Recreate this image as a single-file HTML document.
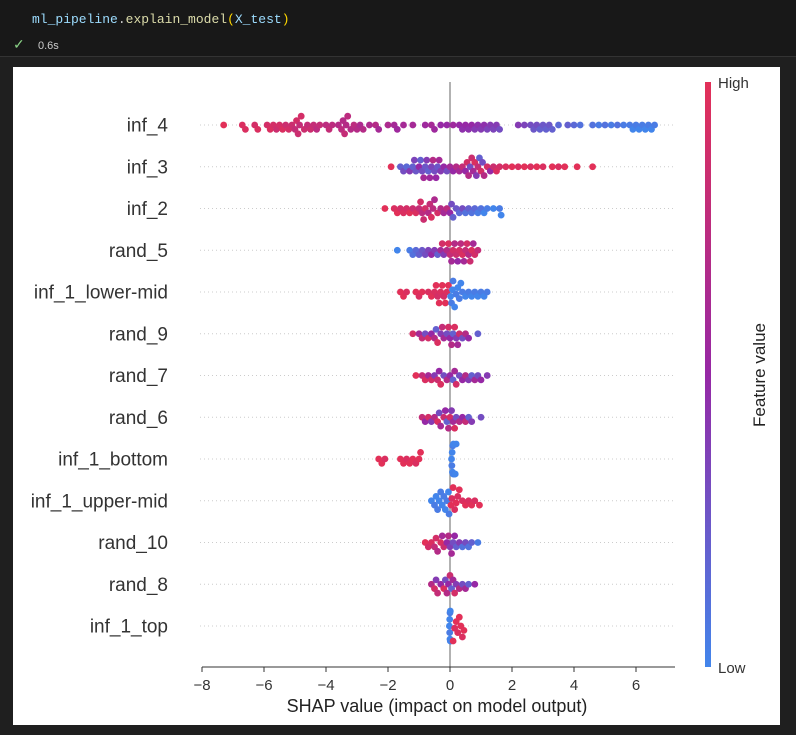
<!DOCTYPE html>
<html><head><meta charset="utf-8"><style>
body{margin:0;background:#1f1f1f;width:796px;height:735px;overflow:hidden;font-family:"Liberation Sans",sans-serif}
#top{position:absolute;left:0;top:0;width:796px;height:56px;background:#181818;border-bottom:1px solid #333}
#code{position:absolute;left:32px;top:12px;font:13px "Liberation Mono",monospace;color:#9cdcfe}
#time{position:absolute;left:38px;top:40px;font-size:11px;color:#ccc}
#chk{position:absolute;left:13px;top:36px;font-size:14px;color:#89d185}
#panel{position:absolute;left:13px;top:67px;width:767px;height:658px;background:#fff}
svg{position:absolute;left:0;top:0}
</style></head><body>
<div id="top">
<div id="code">ml_pipeline<span style="color:#ccc">.</span><span style="color:#dcdcaa">explain_model</span><span style="color:#ffd700">(</span>X_test<span style="color:#ffd700">)</span></div>
<span id="chk">✓</span><span id="time">0.6s</span>
</div>
<div id="panel"></div>
<svg id="chart" width="796" height="735"></svg>
<script>
const features=["inf_4","inf_3","inf_2","rand_5","inf_1_lower-mid","rand_9","rand_7","rand_6","inf_1_bottom","inf_1_upper-mid","rand_10","rand_8","inf_1_top"];
const xTicks=[-8,-6,-4,-2,0,2,4,6];
const inf_4=[[-7.3,1],[-6.7,.95],[-6.6,.95],[-6.3,.9],[-6.2,.95],[-5.9,.9],[-5.8,.95],[-5.7,.9],[-5.6,.85],[-5.5,.9],[-5.4,.95],[-5.3,.85],[-5.2,.9],[-5.1,.85],[-5.0,.8],[-4.95,.9],[-4.9,.85],[-4.85,.8],[-4.8,.9],[-4.7,.85],[-4.6,.8],[-4.5,.85],[-4.4,.8],[-4.3,.75],[-4.2,.8],[-4.0,.75],[-3.9,.8],[-3.8,.75],[-3.6,.7],[-3.5,.75],[-3.45,.7],[-3.4,.8],[-3.35,.7],[-3.3,.75],[-3.2,.7],[-3.1,.75],[-3.0,.7],[-2.9,.65],[-2.8,.7],[-2.6,.65],[-2.4,.7],[-2.3,.6],[-2.0,.65],[-1.8,.6],[-1.7,.55],[-1.5,.6],[-1.2,.6],[-0.8,.55],[-0.6,.6],[-0.5,.55],[-0.3,.5],[-0.1,.5],[0.1,.55],[0.3,.5],[0.4,.45],[0.5,.5],[0.6,.45],[0.7,.5],[0.8,.4],[0.9,.45],[1.0,.4],[1.1,.45],[1.2,.35],[1.3,.4],[1.4,.35],[1.5,.4],[1.6,.3],[2.2,.4],[2.4,.35],[2.6,.3],[2.7,.25],[2.8,.3],[2.9,.2],[3.0,.25],[3.1,.2],[3.2,.25],[3.3,.2],[3.5,.15],[3.8,.2],[4.0,.15],[4.2,.1],[4.6,.1],[4.8,.05],[5.0,.1],[5.2,.05],[5.4,.1],[5.6,.05],[5.8,.05],[5.9,0],[6.0,.05],[6.1,0],[6.2,.05],[6.3,0],[6.4,.05],[6.5,0],[6.6,.05]];
const inf_3=[[-1.9,1],[-1.6,.2],[-1.5,.3],[-1.4,.15],[-1.3,.4],[-1.2,.2],[-1.15,.35],[-1.1,.25],[-1.0,.5],[-0.95,.2],[-0.9,.3],[-0.85,.6],[-0.8,.25],[-0.75,.4],[-0.7,.2],[-0.65,.55],[-0.6,.35],[-0.55,.7],[-0.5,.3],[-0.45,.5],[-0.4,.25],[-0.35,.6],[-0.3,.4],[-0.2,.5],[-0.1,.3],[0,.6],[0.1,.5],[0.2,.7],[0.3,.6],[0.4,.8],[0.5,.5],[0.55,.9],[0.6,.7],[0.65,.3],[0.7,.85],[0.75,.6],[0.8,.95],[0.85,.4],[0.9,.8],[0.95,.2],[1.0,.9],[1.05,.3],[1.1,.7],[1.2,.9],[1.3,.5],[1.4,.85],[1.5,.95],[1.6,.9],[1.8,.95],[2.0,1],[2.2,.95],[2.4,1],[2.6,.95],[2.8,1],[3.0,.95],[3.3,1],[3.5,.95],[3.7,1],[4.1,1],[4.6,1]];
const inf_2=[[-2.1,1],[-1.8,.95],[-1.7,1],[-1.6,.9],[-1.5,.95],[-1.4,.9],[-1.3,1],[-1.2,.85],[-1.1,.95],[-1.0,.8],[-0.95,.9],[-0.9,.75],[-0.85,.85],[-0.8,.9],[-0.7,.7],[-0.65,.8],[-0.6,.95],[-0.55,.75],[-0.5,.65],[-0.4,.9],[-0.3,.7],[-0.2,.6],[-0.1,.75],[0,.5],[0.05,.3],[0.1,.2],[0.2,.25],[0.3,.15],[0.4,.3],[0.5,.1],[0.6,.2],[0.7,.1],[0.8,.15],[0.9,.05],[1.0,.1],[1.1,0],[1.2,.05],[1.4,0],[1.6,.05],[1.65,0]];
const rand_5=[[-1.7,0],[-1.3,.05],[-1.2,.1],[-1.1,.15],[-1.0,.2],[-0.9,.25],[-0.8,.3],[-0.7,.35],[-0.6,.5],[-0.5,.4],[-0.4,.2],[-0.3,.6],[-0.25,.9],[-0.2,.4],[-0.1,.7],[-0.05,.95],[0,.8],[0.05,.6],[0.1,.9],[0.15,.7],[0.2,.85],[0.25,.5],[0.3,.9],[0.35,.75],[0.4,.95],[0.45,.6],[0.5,.8],[0.55,.9],[0.6,.7],[0.65,.85],[0.7,.95],[0.75,.6],[0.8,.9],[0.9,.8]];
const inf_1_lower_mid=[[-1.6,1],[-1.5,1],[-1.4,.95],[-1.1,1],[-1.0,.95],[-0.9,1],[-0.7,.95],[-0.6,1],[-0.5,.95],[-0.45,1],[-0.4,.9],[-0.35,1],[-0.3,.95],[-0.25,1],[-0.2,.9],[-0.15,1],[-0.1,.95],[-0.05,1],[0.02,0],[0.05,.05],[0.08,0],[0.1,.05],[0.15,0],[0.2,.05],[0.25,0],[0.3,.05],[0.35,0],[0.4,.05],[0.5,0],[0.6,.05],[0.7,0],[0.8,.05],[0.9,0],[1.0,.05],[1.1,0],[1.2,.05]];
const rand_9=[[-1.2,.9],[-1.0,.6],[-0.9,.8],[-0.8,.3],[-0.7,.9],[-0.6,.5],[-0.5,.7],[-0.45,.2],[-0.4,.95],[-0.3,.4],[-0.25,.8],[-0.2,.6],[-0.1,.3],[-0.05,.9],[0,.5],[0.05,.7],[0.1,.2],[0.15,.95],[0.2,.4],[0.25,.6],[0.3,.85],[0.4,.3],[0.5,.7],[0.6,.5],[0.9,.2]];
const rand_7=[[-1.1,1],[-0.9,.8],[-0.8,.95],[-0.7,.6],[-0.6,.9],[-0.5,.4],[-0.4,.85],[-0.35,.5],[-0.3,.95],[-0.2,.3],[-0.1,.7],[0,.5],[0.1,.2],[0.15,.6],[0.2,.9],[0.3,.3],[0.4,.5],[0.5,.7],[0.6,.4],[0.7,.2],[0.8,.6],[0.9,.3],[1.0,.5],[1.2,.4]];
const rand_6=[[-0.9,.8],[-0.8,.5],[-0.7,.9],[-0.6,.4],[-0.5,.7],[-0.4,.95],[-0.35,.3],[-0.3,.6],[-0.2,.85],[-0.15,.5],[-0.1,.2],[-0.05,.7],[0,.9],[0.05,.4],[0.1,.6],[0.15,.95],[0.2,.3],[0.3,.7],[0.4,.5],[0.5,.8],[0.6,.2],[0.7,.4],[1.0,.3]];
const inf_1_bottom=[[-2.3,1],[-2.2,1],[-2.1,.95],[-1.6,1],[-1.5,1],[-1.4,.95],[-1.3,1],[-1.2,1],[-1.1,.95],[-1.0,1],[-0.95,1],[0.05,0],[0.06,.05],[0.07,0],[0.08,0],[0.09,.05],[0.1,0],[0.11,0],[0.12,.05],[0.13,0],[0.14,0],[0.15,.05],[0.17,0],[0.2,0]];
const inf_1_upper_mid=[[-0.6,0],[-0.5,.05],[-0.45,0],[-0.4,.05],[-0.35,0],[-0.3,.05],[-0.25,0],[-0.2,.05],[-0.15,0],[-0.1,.05],[-0.05,0],[-0.03,.05],[0.03,1],[0.06,.95],[0.1,1],[0.15,.95],[0.2,1],[0.25,.95],[0.3,1],[0.4,.95],[0.5,1],[0.6,.95],[0.7,1],[0.8,.95],[0.95,1]];
const rand_10=[[-0.8,1],[-0.7,.9],[-0.6,.95],[-0.5,.8],[-0.45,.9],[-0.4,.7],[-0.3,.95],[-0.25,.6],[-0.2,.85],[-0.1,.5],[-0.05,.7],[0,.4],[0.05,.6],[0.1,.3],[0.15,.5],[0.2,.2],[0.3,.4],[0.4,.1],[0.5,.3],[0.6,.1],[0.7,.2],[0.9,.05]];
const rand_8=[[-0.6,.7],[-0.5,.9],[-0.45,.4],[-0.4,.8],[-0.3,.5],[-0.2,.95],[-0.15,.3],[-0.1,.7],[-0.05,.5],[0,.85],[0.05,.2],[0.1,.6],[0.15,.9],[0.2,.4],[0.3,.7],[0.4,.3],[0.5,.6],[0.6,.2],[0.8,.5]];
const inf_1_top=[[-0.02,0],[-0.01,.05],[0,0],[0.01,.05],[0.02,0],[0.0,.05],[-0.01,0],[0.01,0],[0.1,1],[0.15,.95],[0.2,1],[0.25,.95],[0.3,1],[0.35,1],[0.4,.95],[0.45,1]];
const rows=[inf_4,inf_3,inf_2,rand_5,inf_1_lower_mid,rand_9,rand_7,rand_6,inf_1_bottom,inf_1_upper_mid,rand_10,rand_8,inf_1_top];

const svg=document.getElementById('chart'),NS='http://www.w3.org/2000/svg';
function mk(t,a,p){const e=document.createElementNS(NS,t);for(const k in a)e.setAttribute(k,a[k]);(p||svg).appendChild(e);return e;}
const X=v=>450+v*31, Y=i=>125+i*41.75;
function col(f){const b=[66,133,235],m=[150,40,165],r=[226,48,88];let a,c,t;if(f<.5){a=b;c=m;t=f*2}else{a=m;c=r;t=(f-.5)*2}return 'rgb('+a.map((v,i)=>Math.round(v+(c[i]-v)*t)).join(',')+')';}
const defs=mk('defs',{});const g=mk('linearGradient',{id:'cb',x1:0,y1:0,x2:0,y2:1},defs);
[[0,1],[.5,.5],[1,0]].forEach(s=>mk('stop',{offset:s[0],'stop-color':col(s[1])},g));
features.forEach((f,i)=>{
 const l=mk('line',{x1:200,x2:675,y1:Y(i),y2:Y(i),stroke:'#ccc','stroke-width':1,'stroke-dasharray':'1,3'});
 
 const t=mk('text',{x:168,y:Y(i)+6.5,'text-anchor':'end','font-size':19,fill:'#333'});t.textContent=f;
 
});
const z=mk('line',{x1:X(0),x2:X(0),y1:82,y2:667,stroke:'#999','stroke-width':1.5});

const R=3.4;
rows.forEach((pts,i)=>{
 const gr=mk('g',{});
 const sorted=pts.slice().sort((a,b)=>a[0]-b[0]);const placed=[];
 sorted.forEach(p=>{
  const x=X(p[0]);let dy=0;
  for(let k=0;k<40;k++){const off=(k%2?1:-1)*Math.ceil(k/2)*2.2;
   if(placed.every(q=>Math.hypot(q[0]-x,q[1]-off)>=2*R*0.78)){dy=off;break;}}
  dy=Math.max(-15,Math.min(15,dy));placed.push([x,dy]);
  const c=mk('circle',{cx:x,cy:Y(i)+dy,r:R,fill:col(p[1])},gr);
  
 });
});
const ax=mk('line',{x1:202,x2:675,y1:667,y2:667,stroke:'#333','stroke-width':1});

xTicks.forEach(v=>{
 const tk=mk('line',{x1:X(v),x2:X(v),y1:667,y2:672,stroke:'#333'});
 const t=mk('text',{x:X(v),y:690,'text-anchor':'middle','font-size':15,fill:'#333'});t.textContent=(v<0?'\u2212'+(-v):v);
 
});
const xt=mk('text',{x:437,y:712,'text-anchor':'middle','font-size':18,fill:'#222'});xt.textContent='SHAP value (impact on model output)';

const cb=mk('rect',{x:705,y:82,width:6,height:585,fill:'url(#cb)'});
const hi=mk('text',{x:718,y:88,'font-size':15,fill:'#333'});hi.textContent='High';
const lo=mk('text',{x:718,y:673,'font-size':15,fill:'#333'});lo.textContent='Low';
const fvt=mk('text',{x:0,y:0,'text-anchor':'middle','font-size':17,fill:'#222',transform:'translate(765,375) rotate(-90)'});fvt.textContent='Feature value';

</script>
</body></html>
